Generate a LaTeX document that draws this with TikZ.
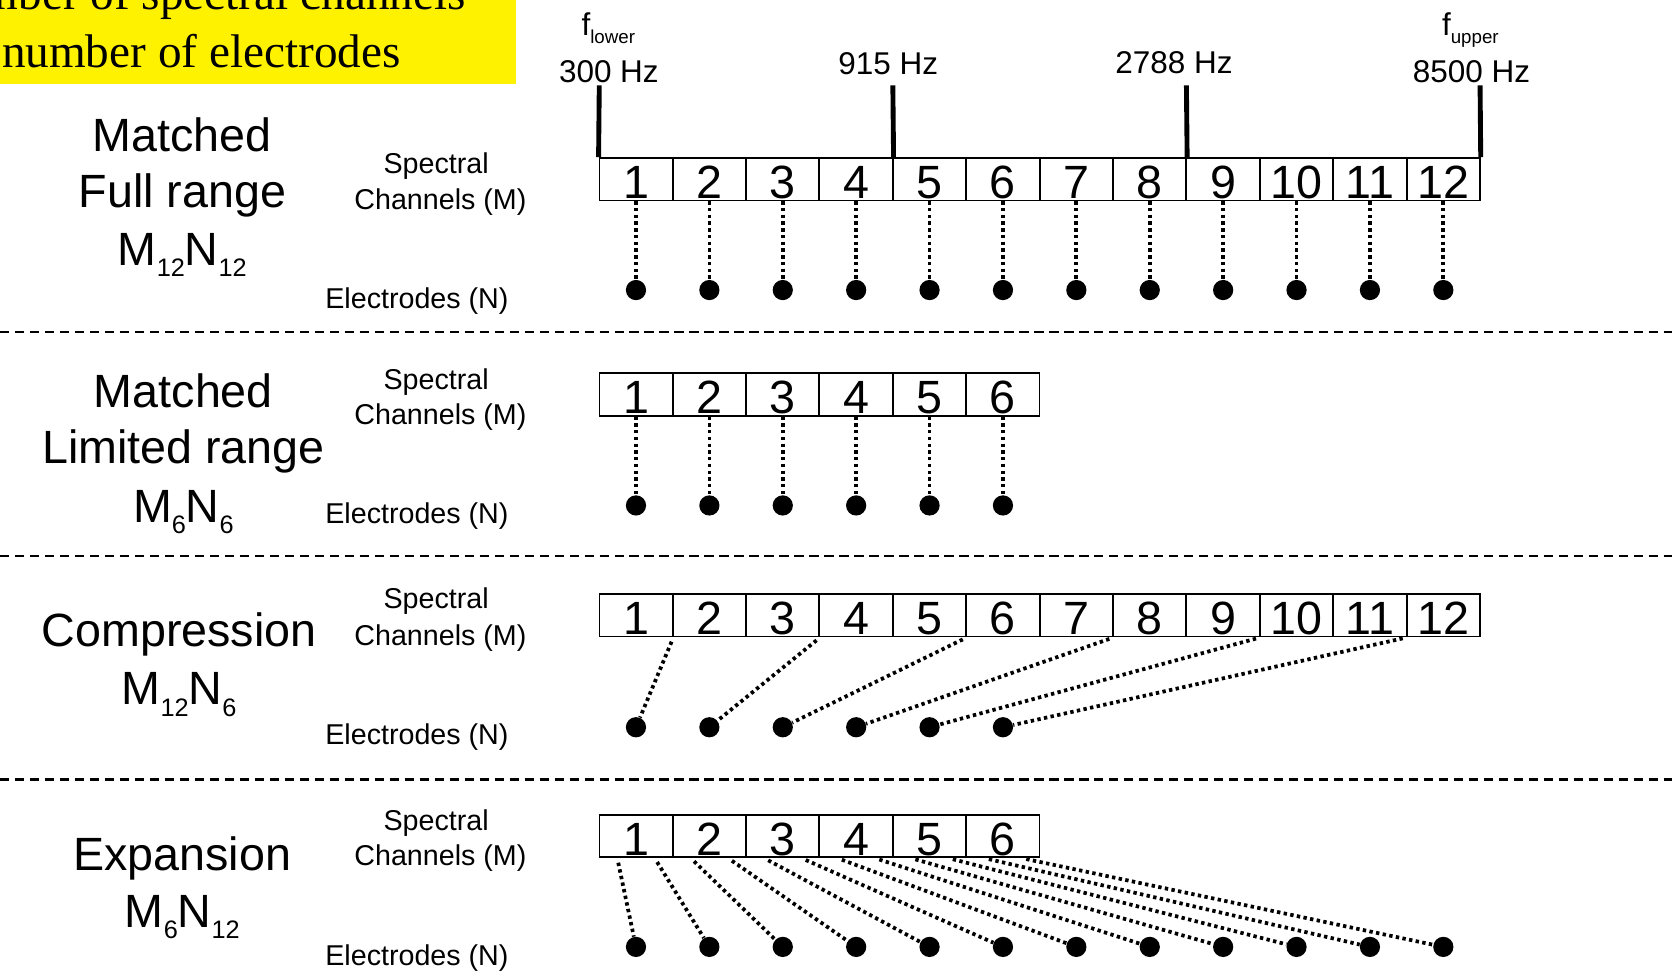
\documentclass[tikz,border=0pt]{standalone}
\usepackage{fontspec}
\setmainfont{Liberation Sans}
\newfontfamily\serifyellow{Liberation Serif}
\usetikzlibrary{calc}
\newcommand\fbig{\fontsize{24.9}{30}\selectfont}
\newcommand\fsmall{\fontsize{15.3}{18}\selectfont}
\newcommand\ffreq{\fontsize{16.8}{20}\selectfont}
\newcommand\fsubs[1]{\raisebox{-6pt}{\fontsize{13.5}{15}\selectfont #1}}
\newcommand\fsubf[1]{\raisebox{-4.7pt}{\fontsize{10}{12}\selectfont #1}}
\begin{document}
\begin{tikzpicture}[x=0.02cm,y=-0.02cm,
  cell/.style={draw,line width=0.9pt,minimum width=39.02pt,minimum height=0pt,
    inner xsep=0pt,inner ysep=0pt,text height=21.68pt,text depth=1pt,font=\fbig},
  edot/.style={circle,fill=black,inner sep=0pt,minimum size=10.8pt},
  conn/.style={line width=2pt,dash pattern=on 1.8pt off 1.8pt},
  sepline/.style={line width=1.1pt,dash pattern=on 5pt off 3pt},
  tickline/.style={line width=2.6pt},
  lbl/.style={inner sep=0pt,anchor=base},
  biglbl/.style={lbl,font=\fbig},
  smalllbl/.style={lbl,font=\fsmall},
  freqlbl/.style={lbl,font=\ffreq},
  ttl/.style={inner sep=0pt,anchor=base east,font=\serifyellow\fontsize{25.2}{30}\selectfont}
]
\useasboundingbox (0,0) rectangle (1568,919);
\clip (0,0) rectangle (1568,919);

% title box
\fill[yellow] (0,0) rectangle (484,79);
\node[ttl] (ttl1) at (437,9) {Number of spectral channels};
\node[ttl] (ttl2) at (376,63) {number of electrodes};

% separators
\coordinate (s1l) at (0,311); \coordinate (s1r) at (1568,311);
\coordinate (s2l) at (0,521); \coordinate (s2r) at (1568,521);
\coordinate (s3l) at (0,731); \coordinate (s3r) at (1568,731);
\draw[sepline] (s1l) -- (s1r);
\draw[sepline] (s2l) -- (s2r);
\draw[sepline] (s3l) -- (s3r);

% row labels
\node[biglbl] (r1a) at (171,142) {Matched};
\node[biglbl] (r1b) at (171,195) {Full range};
\node[biglbl] (r1c) at (171,249) {M\fsubs{12}N\fsubs{12}};
\node[biglbl] (r2a) at (172,382) {Matched};
\node[biglbl] (r2b) at (172,435) {Limited range};
\node[biglbl] (r2c) at (172,490) {M\fsubs{6}N\fsubs{6}};
\node[biglbl] (r3a) at (168,606) {Compression};
\node[biglbl] (r3b) at (168,661) {M\fsubs{12}N\fsubs{6}};
\node[biglbl] (r4a) at (171,816) {Expansion};
\node[biglbl] (r4b) at (171,870) {M\fsubs{6}N\fsubs{12}};

% side labels
\node[smalllbl] (sp1) at (409,163) {Spectral};
\node[smalllbl] (ch1) at (413,196) {Channels (M)};
\node[smalllbl] (el1) at (391,289) {Electrodes (N)};
\node[smalllbl] (sp2) at (409,365) {Spectral};
\node[smalllbl] (ch2) at (413,398) {Channels (M)};
\node[smalllbl] (el2) at (391,491) {Electrodes (N)};
\node[smalllbl] (sp3) at (409,571) {Spectral};
\node[smalllbl] (ch3) at (413,605) {Channels (M)};
\node[smalllbl] (el3) at (391,698) {Electrodes (N)};
\node[smalllbl] (sp4) at (409,779) {Spectral};
\node[smalllbl] (ch4) at (413,812) {Channels (M)};
\node[smalllbl] (el4) at (391,905) {Electrodes (N)};

% row 1: matched full range
\foreach \k in {1,...,12} {
  \node[cell] (c1-\k) at ({562+68.83*(\k-0.5)},168) {\k};
  \node[edot] (e1-\k) at ({562+68.83*(\k-0.5)},272) {};
  \draw[conn] (c1-\k.south) -- (e1-\k.north);
}
% frequency scale
\coordinate (tk1) at (562,80);
\coordinate (tk2) at (837.3,80);
\coordinate (tk3) at (1112.6,80);
\coordinate (tk4) at (1388,80);
\draw[tickline] (c1-1.north west) -- (tk1);
\draw[tickline] (c1-4.north east) -- (tk2);
\draw[tickline] (c1-8.north east) -- (tk3);
\draw[tickline] (c1-12.north east) -- (tk4);
\node[freqlbl,anchor=base west] (flow) at (545,33) {f\fsubf{lower}};
\node[freqlbl,anchor=base west] (fup) at (1352,33) {f\fsubf{upper}};
\node[freqlbl] (f300) at (571,77) {300 Hz};
\node[freqlbl] (f915) at (833,70) {915 Hz};
\node[freqlbl] (f2788) at (1101,69) {2788 Hz};
\node[freqlbl] (f8500) at (1380,77) {8500 Hz};

% row 2: matched limited range
\foreach \k in {1,...,6} {
  \node[cell] (c2-\k) at ({562+68.83*(\k-0.5)},370) {\k};
  \node[edot] (e2-\k) at ({562+68.83*(\k-0.5)},474) {};
  \draw[conn] (c2-\k.south) -- (e2-\k.north);
}

% row 3: compression
\foreach \k in {1,...,12} {
  \node[cell] (c3-\k) at ({562+68.83*(\k-0.5)},577) {\k};
}
\foreach \k in {1,...,6} {
  \node[edot] (e3-\k) at ({562+68.83*(\k-0.5)},682) {};
  \pgfmathtruncatemacro\m{2*\k-1}
  \draw[conn,shorten <=2.5pt] (c3-\m.south east) -- (e3-\k);
}

% row 4: expansion
\foreach \k in {1,...,6} {
  \node[cell] (c4-\k) at ({562+68.83*(\k-0.5)},784) {\k};
}
\foreach \j in {1,...,12} {
  \node[edot] (e4-\j) at ({562+68.83*(\j-0.5)},888) {};
  \pgfmathtruncatemacro\cc{ceil(\j/2)}
  \pgfmathsetmacro\fr{mod(\j,2)==1?0.25:0.75}
  \draw[conn,shorten <=2.5pt] ($(c4-\cc.south west)!\fr!(c4-\cc.south east)$) -- (e4-\j);
}
\end{tikzpicture}
\end{document}
